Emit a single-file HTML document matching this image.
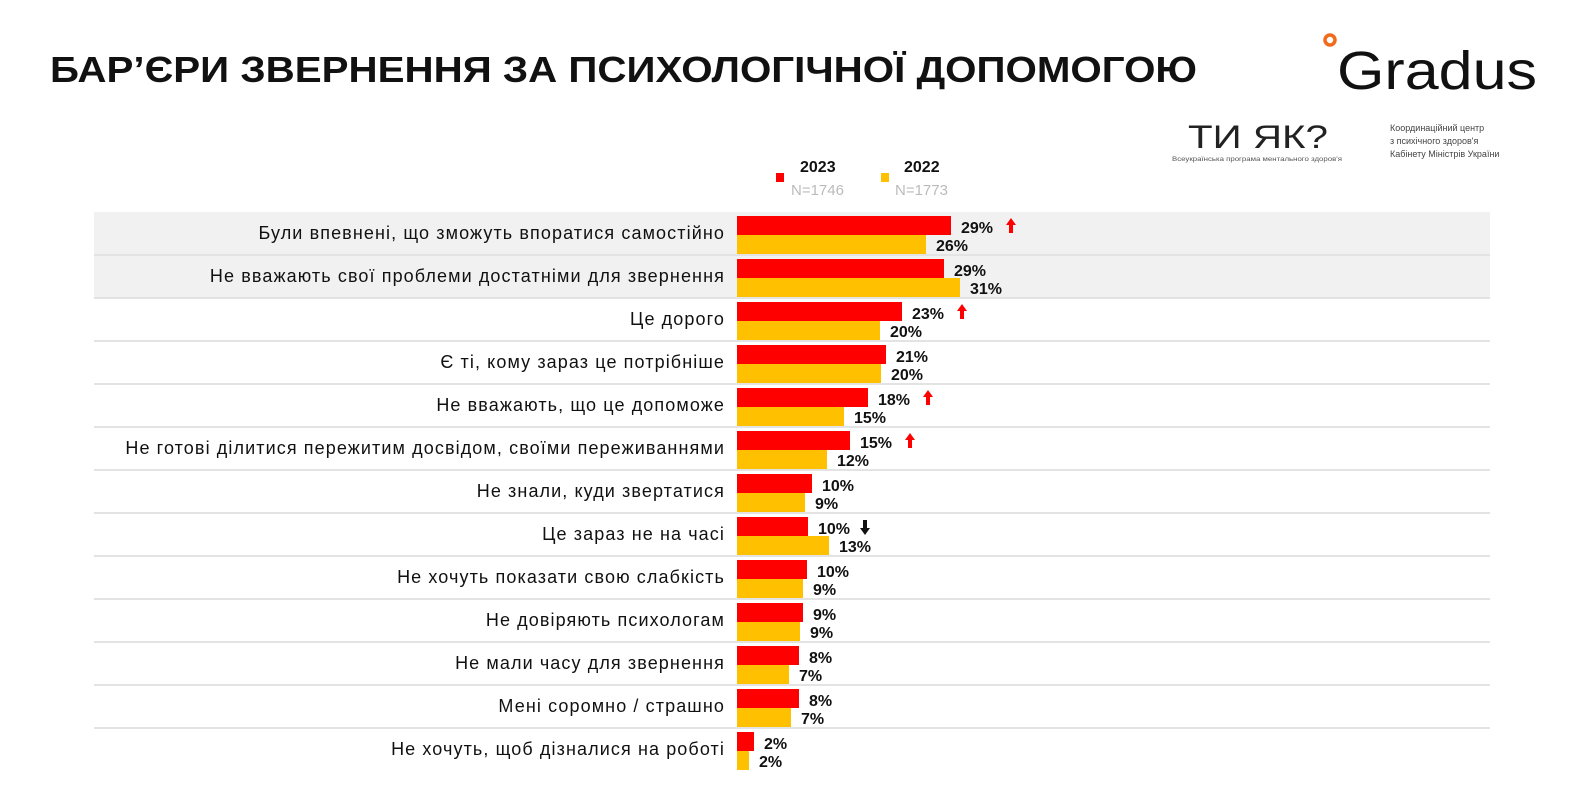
<!DOCTYPE html>
<html><head><meta charset="utf-8"><style>html,body{margin:0;padding:0;background:#fff;}svg{display:block}</style></head>
<body>
<svg width="1570" height="796" viewBox="0 0 1570 796" xmlns="http://www.w3.org/2000/svg" font-family="Liberation Sans, Arial, sans-serif">
<text x="50" y="82" font-size="36" font-weight="bold" fill="#111" textLength="1147" lengthAdjust="spacingAndGlyphs">БАР’ЄРИ ЗВЕРНЕННЯ ЗА ПСИХОЛОГІЧНОЇ ДОПОМОГОЮ</text>
<circle cx="1330" cy="40" r="5" fill="none" stroke="#f26a1b" stroke-width="3.5"/>
<text x="1337" y="89" font-size="54" fill="#111" textLength="200" lengthAdjust="spacingAndGlyphs">Gradus</text>
<text x="1188" y="148" font-size="32" fill="#222" textLength="140" lengthAdjust="spacingAndGlyphs">ТИ ЯК?</text>
<text x="1172" y="161" font-size="6" fill="#555" textLength="170" lengthAdjust="spacingAndGlyphs">Всеукраїнська програма ментального здоров'я</text>
<text font-size="9" fill="#444"><tspan x="1390" y="131">Координаційний центр</tspan><tspan x="1390" y="144">з психічного здоров'я</tspan><tspan x="1390" y="157">Кабінету Міністрів України</tspan></text>
<rect x="776" y="173" width="8" height="9" fill="#f00"/>
<text x="800" y="172" font-size="16" font-weight="bold" fill="#111">2023</text>
<text x="791" y="195" font-size="15" fill="#bbb">N=1746</text>
<rect x="881" y="173" width="8" height="9" fill="#ffc000"/>
<text x="904" y="172" font-size="16" font-weight="bold" fill="#111">2022</text>
<text x="895" y="195" font-size="15" fill="#bbb">N=1773</text>
<rect x="94" y="212" width="1396" height="85" fill="#f1f1f1"/>
<g fill="#e3e3e3">
<rect x="94" y="254" width="1396" height="2"/><rect x="94" y="297" width="1396" height="2"/><rect x="94" y="340" width="1396" height="2"/><rect x="94" y="383" width="1396" height="2"/><rect x="94" y="426" width="1396" height="2"/><rect x="94" y="469" width="1396" height="2"/><rect x="94" y="512" width="1396" height="2"/><rect x="94" y="555" width="1396" height="2"/><rect x="94" y="598" width="1396" height="2"/><rect x="94" y="641" width="1396" height="2"/><rect x="94" y="684" width="1396" height="2"/><rect x="94" y="727" width="1396" height="2"/>
</g>
<g font-size="18" letter-spacing="1.1" fill="#111" text-anchor="end">
<text x="725" y="239">Були впевнені, що зможуть впоратися самостійно</text>
<text x="725" y="282">Не вважають свої проблеми достатніми для звернення</text>
<text x="725" y="325">Це дорого</text>
<text x="725" y="368">Є ті, кому зараз це потрібніше</text>
<text x="725" y="411">Не вважають, що це допоможе</text>
<text x="725" y="454">Не готові ділитися пережитим досвідом, своїми переживаннями</text>
<text x="725" y="497">Не знали, куди звертатися</text>
<text x="725" y="540">Це зараз не на часі</text>
<text x="725" y="583">Не хочуть показати свою слабкість</text>
<text x="725" y="626">Не довіряють психологам</text>
<text x="725" y="669">Не мали часу для звернення</text>
<text x="725" y="712">Мені соромно / страшно</text>
<text x="725" y="755">Не хочуть, щоб дізналися на роботі</text>
</g>
<g fill="#ff0000">
<rect x="737" y="216" width="214" height="19"/><rect x="737" y="259" width="207" height="19"/><rect x="737" y="302" width="165" height="19"/><rect x="737" y="345" width="149" height="19"/><rect x="737" y="388" width="131" height="19"/><rect x="737" y="431" width="113" height="19"/><rect x="737" y="474" width="75" height="19"/><rect x="737" y="517" width="71" height="19"/><rect x="737" y="560" width="70" height="19"/><rect x="737" y="603" width="66" height="19"/><rect x="737" y="646" width="62" height="19"/><rect x="737" y="689" width="62" height="19"/><rect x="737" y="732" width="17" height="19"/>
</g>
<g fill="#ffc000">
<rect x="737" y="235" width="189" height="19"/><rect x="737" y="278" width="223" height="19"/><rect x="737" y="321" width="143" height="19"/><rect x="737" y="364" width="144" height="19"/><rect x="737" y="407" width="107" height="19"/><rect x="737" y="450" width="90" height="19"/><rect x="737" y="493" width="68" height="19"/><rect x="737" y="536" width="92" height="19"/><rect x="737" y="579" width="66" height="19"/><rect x="737" y="622" width="63" height="19"/><rect x="737" y="665" width="52" height="19"/><rect x="737" y="708" width="54" height="19"/><rect x="737" y="751" width="12" height="19"/>
</g>
<g font-size="16" font-weight="bold" fill="#111">
<text x="961" y="233">29%</text><text x="936" y="251">26%</text>
<text x="954" y="276">29%</text><text x="970" y="294">31%</text>
<text x="912" y="319">23%</text><text x="890" y="337">20%</text>
<text x="896" y="362">21%</text><text x="891" y="380">20%</text>
<text x="878" y="405">18%</text><text x="854" y="423">15%</text>
<text x="860" y="448">15%</text><text x="837" y="466">12%</text>
<text x="822" y="491">10%</text><text x="815" y="509">9%</text>
<text x="818" y="534">10%</text><text x="839" y="552">13%</text>
<text x="817" y="577">10%</text><text x="813" y="595">9%</text>
<text x="813" y="620">9%</text><text x="810" y="638">9%</text>
<text x="809" y="663">8%</text><text x="799" y="681">7%</text>
<text x="809" y="706">8%</text><text x="801" y="724">7%</text>
<text x="764" y="749">2%</text><text x="759" y="767">2%</text>
</g>
<g fill="#f00">
<path d="M1011 218 l-5 7 h3 v8 h4 v-8 h3z"/>
<path d="M962 304 l-5 7 h3 v8 h4 v-8 h3z"/>
<path d="M928 390 l-5 7 h3 v8 h4 v-8 h3z"/>
<path d="M910 433 l-5 7 h3 v8 h4 v-8 h3z"/>
</g>
<path d="M865 535 l-5 -7 h3 v-8 h4 v8 h3z" fill="#111"/>
</svg>
</body></html>
